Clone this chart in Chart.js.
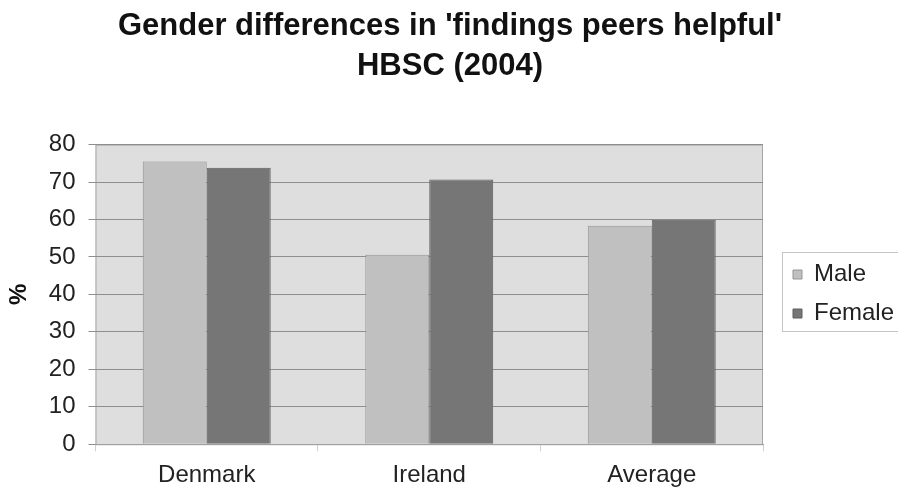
<!DOCTYPE html>
<html>
<head>
<meta charset="utf-8">
<script src="https://cdn.jsdelivr.net/npm/chart.js@4"></script>
<style>
  html, body { margin: 0; padding: 0; background: #fff; }
  #wrap { width: 898px; height: 493px; }
</style>
</head>
<body>
<div id="wrap"><canvas id="genderChart" width="898" height="493"></canvas></div>
<script>
// ================= DATA =================
const countries = ["Denmark", "Ireland", "Average"];
const maleValues = [75.5, 50.6, 58.3];
const femaleValues = [73.8, 70.7, 59.9];
const seriesNames = ["Male", "Female"];
const titleLines = ["Gender differences in 'findings peers helpful'", "HBSC (2004)"];

// ================= PLUGINS =================
// grey plot area like the old Excel charts
const plotBackground = {
    id: "plotBackground",
    beforeDraw(chart) {
        const { ctx, chartArea: a } = chart;
        ctx.save();
        ctx.fillStyle = "#dedede";
        ctx.fillRect(a.left, a.top, a.right - a.left, a.bottom - a.top);
        ctx.strokeStyle = "#a6a6a6";
        ctx.lineWidth = 1;
        ctx.strokeRect(a.left + 0.5, a.top + 0.5, a.right - a.left - 1, a.bottom - a.top);
        ctx.restore();
    }
};

// legend: fixed width, then nudged next to the plot and framed
const LEGEND_W = 135;
const LEGEND_MID = 294;
const legendPlace = {
    id: "legendPlace",
    beforeLayout(chart) {
        const lg = chart.legend;
        if (!lg || lg._fixed) return;
        const fit = lg.fit;
        lg.fit = function () {
            fit.call(this);
            this.width = LEGEND_W;
        };
        lg._fixed = true;
    },
    afterLayout(chart) {
        const lg = chart.legend;
        if (!lg) return;
        const pad = lg.options.labels.padding;
        const dx = chart.chartArea.right + 30 - (lg.left + pad);
        lg.left += dx;
        lg.right += dx;
        // middle of the two rows where chart.js would put them
        const colH = lg.columnSizes && lg.columnSizes[0] ? lg.columnSizes[0].height : 0;
        const y0 = (lg.top + pad + lg.bottom - colH) / 2;
        const rowH = lg.options.labels.font.size + pad;
        const mid = y0 + lg.options.labels.font.size / 2 + rowH / 2;
        const dy = LEGEND_MID - mid;
        lg.top += dy;
        lg.bottom += dy;
    },
    afterDraw(chart) {
        const { ctx, chartArea: a } = chart;
        ctx.save();
        ctx.strokeStyle = "#c4c4c4";
        ctx.lineWidth = 1;
        ctx.strokeRect(a.right + 19.5, LEGEND_MID - 41.5, 140, 79);
        ctx.restore();
    }
};

// ================= CHART =================
const font = "'Liberation Sans', Arial, sans-serif";

new Chart(document.getElementById("genderChart"), {
    type: "bar",
    data: {
        labels: countries,
        datasets: [
            {
                label: seriesNames[0],
                data: maleValues,
                backgroundColor: "#c0c0c0",
                borderColor: "#959595",
                borderWidth: 1,
                borderSkipped: "bottom"
            },
            {
                label: seriesNames[1],
                data: femaleValues,
                backgroundColor: "#767676",
                borderColor: "#5f5f5f",
                borderWidth: 1,
                borderSkipped: "bottom"
            }
        ]
    },
    options: {
        responsive: false,
        animation: false,
        layout: { padding: { left: 2, right: 0, top: 6, bottom: -7 } },
        datasets: {
            bar: { categoryPercentage: 0.575, barPercentage: 1 }
        },
        plugins: {
            title: {
                display: true,
                text: titleLines,
                color: "#111",
                font: { family: font, size: 31, weight: "bold", lineHeight: 1.3 },
                padding: { top: 0, bottom: 58 }
            },
            legend: {
                position: "right",
                labels: {
                    color: "#222",
                    font: { family: font, size: 24 },
                    boxWidth: 9,
                    boxHeight: 9,
                    padding: 15
                }
            },
            tooltip: { enabled: false }
        },
        scales: {
            x: {
                grid: {
                    drawOnChartArea: false,
                    drawTicks: true,
                    tickLength: 7,
                    color: "#cfcfcf"
                },
                border: { color: "#a0a0a0" },
                ticks: {
                    color: "#222",
                    font: { family: font, size: 24 },
                    padding: 10
                }
            },
            y: {
                min: 0,
                max: 80,
                ticks: {
                    stepSize: 10,
                    color: "#222",
                    font: { family: font, size: 24 },
                    padding: 13
                },
                grid: {
                    color: "#8e8e8e",
                    tickLength: 7
                },
                border: { display: false },
                title: {
                    display: true,
                    text: "%",
                    color: "#111",
                    font: { family: font, size: 24, weight: "bold" },
                    padding: { top: 3, bottom: 2 }
                }
            }
        }
    },
    plugins: [plotBackground, legendPlace]
});
</script>
</body>
</html>
